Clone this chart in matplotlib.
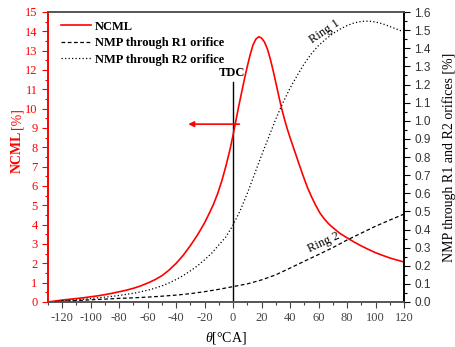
import matplotlib
matplotlib.use("Agg")
import matplotlib.pyplot as plt
from matplotlib.ticker import MultipleLocator, FormatStrFormatter
from matplotlib.lines import Line2D

plt.rcParams["axes.unicode_minus"] = False
plt.rcParams["mathtext.fontset"] = "custom"
plt.rcParams["mathtext.it"] = "Liberation Serif:italic"
plt.rcParams["mathtext.rm"] = "Liberation Serif"

# ---- data ----
theta_ncml = [-130, -125, -120, -115, -110, -105, -100, -95, -90, -85, -80, -75, -70, -65, -60,
              -55, -50, -45, -40, -35, -30, -25, -20, -17, -14, -11, -8, -5, -2, 0,
              2, 4, 6, 8, 10, 12, 14, 16, 18, 20, 22, 24, 26, 28, 30, 32, 34, 36, 38, 40,
              43, 46, 49, 52, 55, 58, 61, 64, 67, 70, 75, 80, 85, 90, 95, 100, 105, 110, 115, 120]
ncml = [0.0, 0.05, 0.10, 0.14, 0.18, 0.22, 0.27, 0.32, 0.38, 0.45, 0.53, 0.61, 0.71, 0.83, 0.98,
        1.15, 1.36, 1.65, 2.0, 2.42, 2.92, 3.47, 4.1, 4.55, 5.02, 5.58, 6.25, 7.05, 7.95, 8.65,
        9.4, 10.15, 10.85, 11.55, 12.2, 12.8, 13.3, 13.6, 13.72, 13.65, 13.45, 13.1, 12.6, 12.0,
        11.35, 10.67, 10.03, 9.47, 8.96, 8.5,
        7.85, 7.2, 6.56, 5.96, 5.45, 5.0, 4.6, 4.3, 4.05, 3.85, 3.55, 3.32, 3.1, 2.9, 2.72,
        2.55, 2.41, 2.28, 2.17, 2.07]

theta_r2 = [-130, -125, -120, -115, -110, -105, -100, -95, -90, -85, -80, -75, -70, -65, -60,
            -55, -50, -45, -40, -35, -30, -25, -20, -15, -10, -5, 0, 5, 10, 15, 20, 25, 30,
            35, 40, 45, 50, 55, 60, 65, 70, 75, 80, 85, 90, 95, 100, 105, 110, 115, 120]
nmp_r2 = [0.0, 0.003, 0.006, 0.009, 0.012, 0.015, 0.019, 0.023, 0.027, 0.031, 0.036, 0.042,
          0.048, 0.056, 0.065, 0.076, 0.089, 0.105, 0.124, 0.146, 0.172, 0.2, 0.233, 0.27,
          0.315, 0.36, 0.425, 0.505, 0.6, 0.705, 0.81, 0.91, 1.01, 1.10, 1.18, 1.25, 1.315,
          1.37, 1.415, 1.45, 1.48, 1.505, 1.525, 1.54, 1.548, 1.55, 1.545, 1.535, 1.52,
          1.505, 1.49]

theta_r1 = [-130, -120, -110, -100, -90, -80, -70, -60, -50, -40, -30, -20, -10, 0, 10, 20, 30, 40,
            50, 60, 70, 80, 90, 100, 110, 120]
nmp_r1 = [0.0, 0.004, 0.008, 0.012, 0.016, 0.02, 0.023, 0.027, 0.032, 0.038, 0.046, 0.057, 0.07,
          0.085, 0.10, 0.122, 0.15, 0.187, 0.225, 0.262, 0.30, 0.342, 0.38, 0.418, 0.452, 0.485]

tdc_height = 11.4
arrow_y = 9.2
arrow_from = 4.4
arrow_to = -31.5

legend_labels = ["NCML", "NMP through R1 orifice", "NMP through R2 orifice"]

SERIF = "Liberation Serif"
SANS = "Liberation Sans"
RED = "#ff0000"

fig = plt.figure(figsize=(4.56, 3.47), dpi=100)
ax = fig.add_axes([48 / 456, 45 / 347, (404 - 48) / 456, (302 - 12) / 347])
ax2 = ax.twinx()

ax.plot(theta_ncml, ncml, color=RED, lw=1.2, zorder=3)
ax2.plot(theta_r1, nmp_r1, color="black", lw=0.9, dashes=(3, 2))
ax2.plot(theta_r2, nmp_r2, color="black", lw=0.9, dashes=(1, 1.8))

ax.set_xlim(-130, 120)
ax.set_ylim(0, 15)
ax2.set_ylim(0, 1.6)

# TDC line and label
ax.plot([0, 0], [0, tdc_height], color="black", lw=1.0)
ax.text(-1.0, tdc_height + 0.15, "TDC", family=SERIF, fontsize=9, fontweight="bold",
        ha="center", va="bottom")
ax.annotate("", xy=(arrow_to, arrow_y), xytext=(arrow_from, arrow_y),
            arrowprops=dict(arrowstyle="-|>", color=RED, lw=1.2, mutation_scale=8,
                            shrinkA=0, shrinkB=0))

ax2.text(64, 1.49, "Ring 1", family=SERIF, fontsize=9, rotation=34, ha="center", va="center")
ax2.text(64, 0.33, "Ring 2", family=SERIF, fontsize=9, rotation=25, ha="center", va="center")

# ticks
ax.xaxis.set_major_locator(MultipleLocator(20))
ax.xaxis.set_minor_locator(MultipleLocator(10))
ax.yaxis.set_major_locator(MultipleLocator(1))
ax.yaxis.set_minor_locator(MultipleLocator(0.5))
ax2.yaxis.set_major_locator(MultipleLocator(0.1))
ax2.yaxis.set_minor_locator(MultipleLocator(0.05))
ax2.yaxis.set_major_formatter(FormatStrFormatter("%.1f"))

ax.tick_params(axis="x", which="major", direction="out", length=4, width=0.8, colors="#444444",
               labelsize=9)
ax.tick_params(axis="x", which="minor", direction="out", length=2, width=0.8, colors="#444444")
ax.tick_params(axis="y", which="major", direction="out", length=4, width=0.8, colors=RED,
               labelsize=9)
ax.tick_params(axis="y", which="minor", direction="out", length=2, width=0.8, colors=RED)
ax2.tick_params(axis="y", which="major", direction="out", length=4, width=0.8, colors="black",
                labelsize=8.5)
ax2.tick_params(axis="y", which="minor", direction="out", length=2, width=0.8, colors="black")

for lab in ax.get_xticklabels() + ax.get_yticklabels():
    lab.set_family(SERIF)
for lab in ax2.get_yticklabels():
    lab.set_family(SANS)
    lab.set_color("#333333")

for a in (ax, ax2):
    a.spines["left"].set_color(RED)
    a.spines["bottom"].set_color("#555555")
    a.spines["top"].set_color("#555555")
    a.spines["right"].set_color("black")
    for s in a.spines.values():
        s.set_linewidth(1.2)

# axis labels
fig.text(17 / 456, 1 - 152 / 347, "NCML", family=SERIF, fontsize=10, fontweight="bold",
         color=RED, rotation=90, ha="center", va="center")
fig.text(17 / 456, 1 - 119 / 347, "[%]", family=SERIF, fontsize=10, color=RED,
         rotation=90, ha="center", va="center")
ax2.set_ylabel("NMP through R1 and R2 orifices [%]", family=SERIF, fontsize=10, labelpad=8)
ax.set_xlabel(r"$\theta$[°CA]", family=SERIF, fontsize=10, labelpad=4)

handles = [Line2D([], [], color=RED, lw=1.2),
           Line2D([], [], color="black", lw=0.9, dashes=(3, 2)),
           Line2D([], [], color="black", lw=0.9, dashes=(1, 1.8))]
leg = ax.legend(handles, legend_labels, loc="upper left", bbox_to_anchor=(0.0225, 0.987),
                borderaxespad=0, frameon=False,
                prop=dict(family=SERIF, weight="bold", size=9), handlelength=2.4,
                handletextpad=0.3, labelspacing=0.35)
leg.set_zorder(5)

fig.savefig("out.png", dpi=100)
